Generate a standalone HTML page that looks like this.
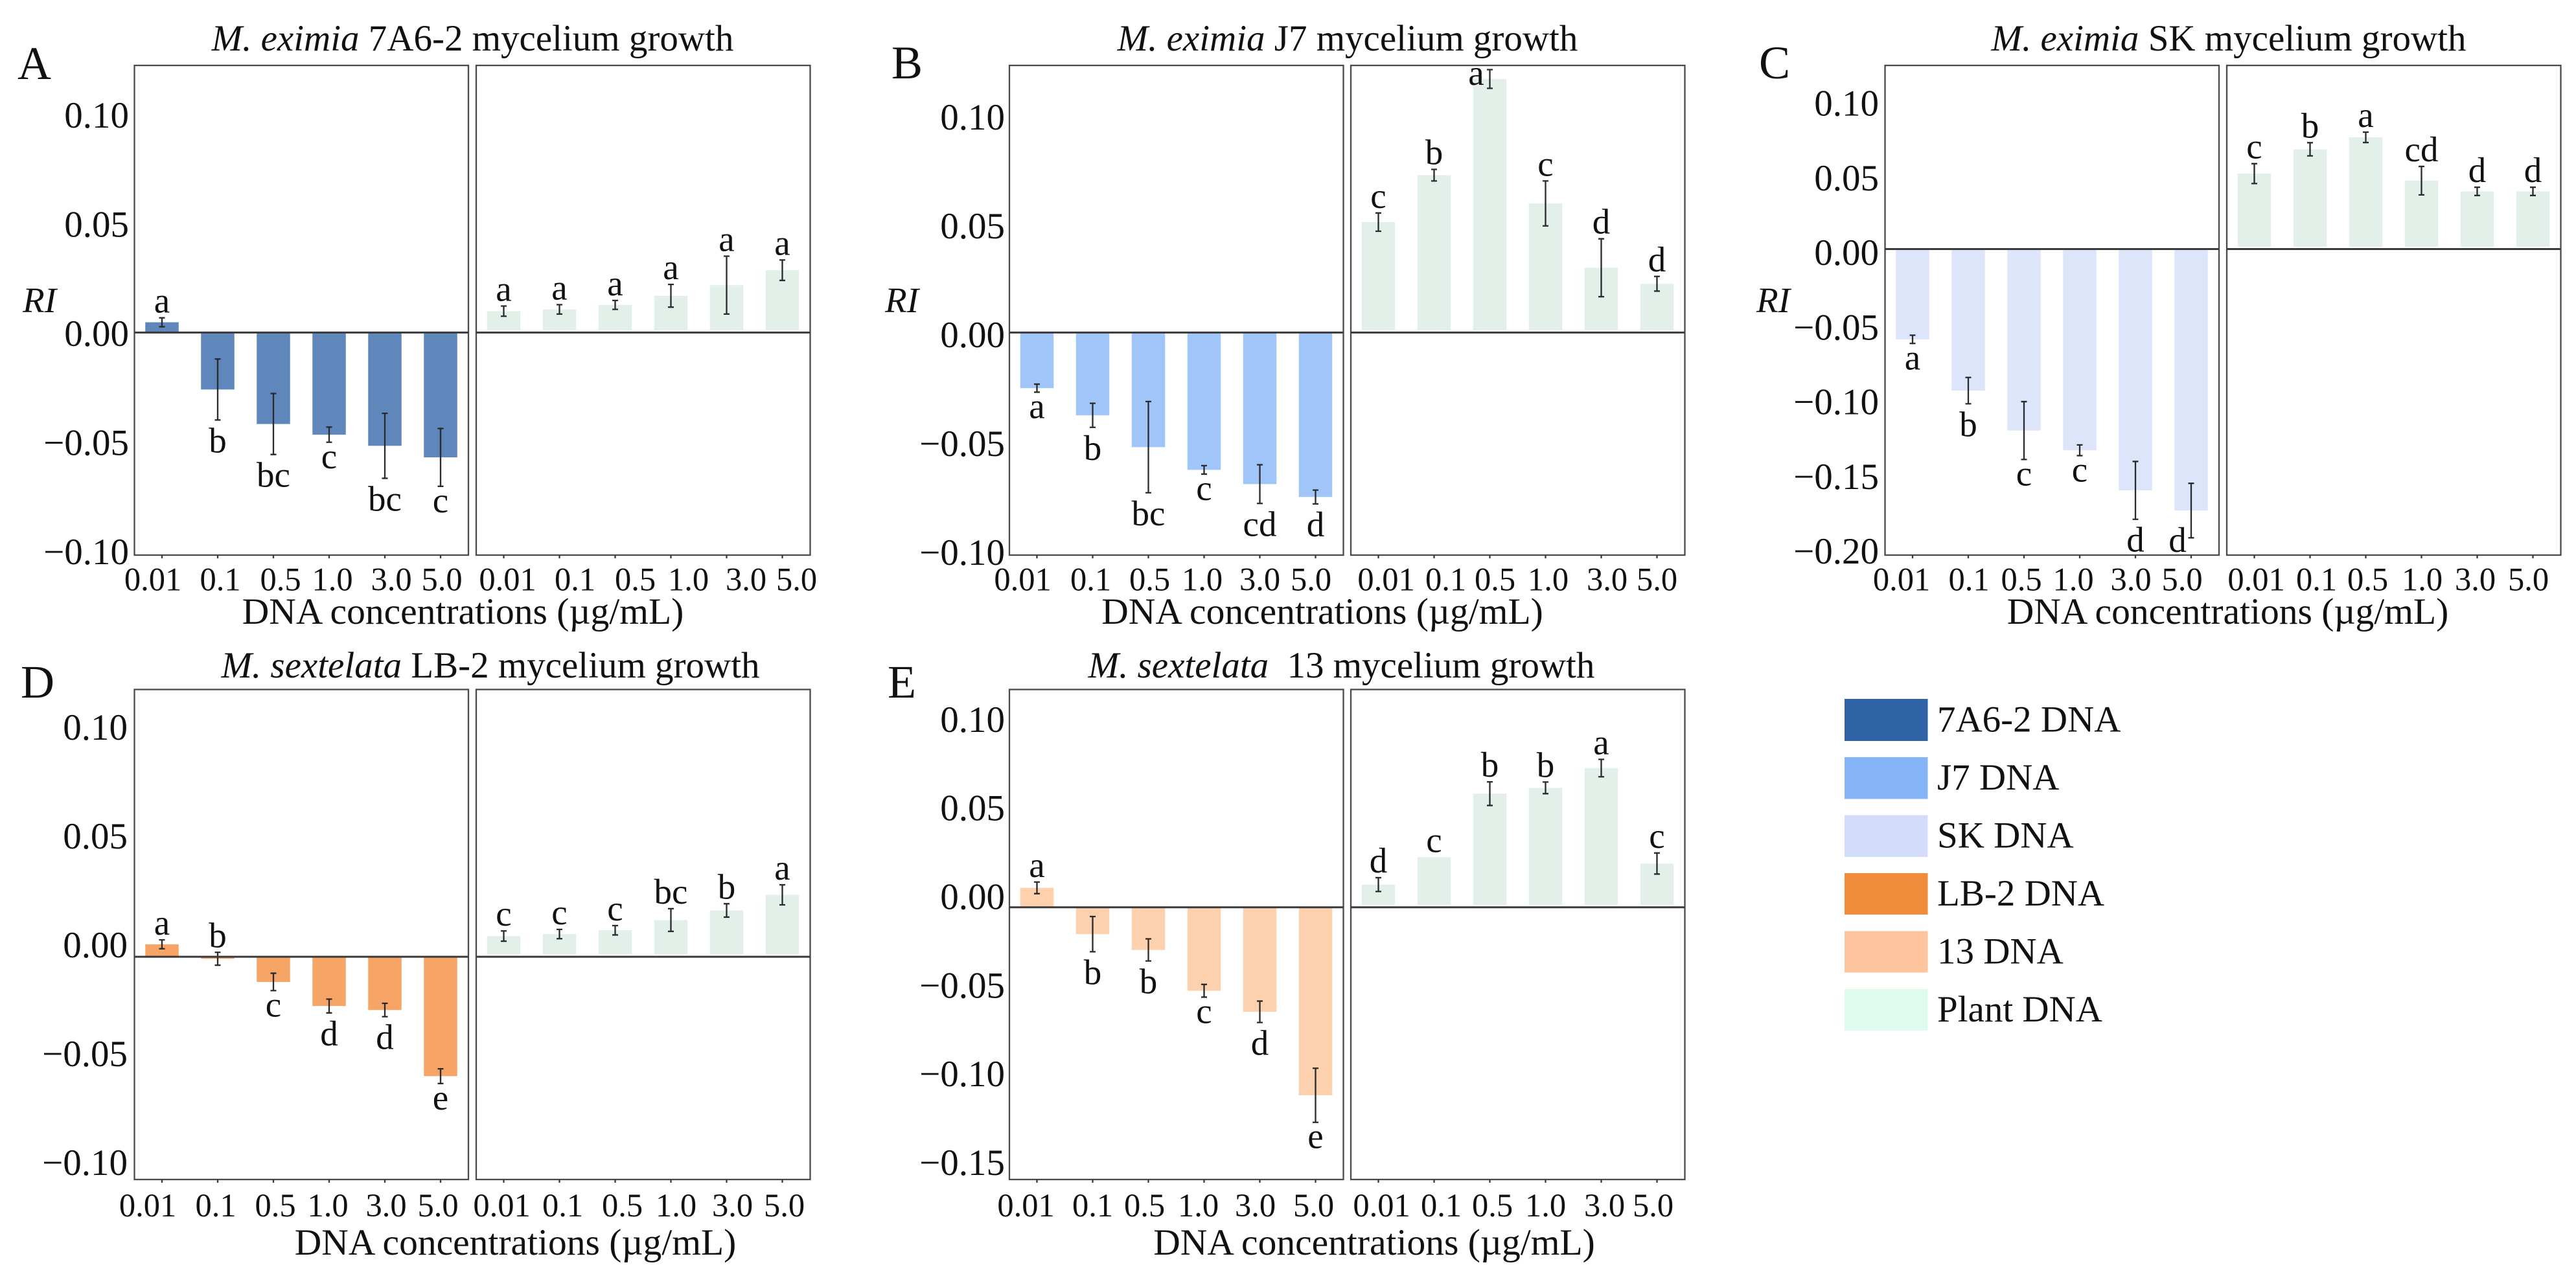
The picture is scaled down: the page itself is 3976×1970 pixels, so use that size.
<!DOCTYPE html>
<html lang="en">
<head>
<meta charset="utf-8">
<title>Mycelium growth RI charts</title>
<style>
html,body{margin:0;padding:0;background:#fff;width:3976px;height:1970px;overflow:hidden}
svg{display:block;font-family:"Liberation Serif",serif;fill:#111}
.title,.ytick{font-size:57px}
.xlabel{font-size:57.5px}
.ylabel{font-size:55px}
.xtick{font-size:50.5px}
.letter{font-size:55px}
.panel-letter{font-size:72px}
</style>
</head>
<body>
<svg id="figure" xmlns="http://www.w3.org/2000/svg" width="3976" height="1970" viewBox="0 0 3976 1970">
  <rect width="3976" height="1970" fill="#fff"/>

  <text class="panel-letter" x="27" y="122">A</text>
  <text class="panel-letter" x="1376" y="121">B</text>
  <text class="panel-letter" x="2715" y="121">C</text>
  <text class="panel-letter" x="32" y="1077">D</text>
  <text class="panel-letter" x="1370" y="1077">E</text>

  <text class="title" x="729.5" y="78" text-anchor="middle"><tspan font-style="italic">M. eximia</tspan> 7A6-2 mycelium growth</text>
  <text class="title" x="2080" y="78" text-anchor="middle"><tspan font-style="italic">M. eximia</tspan> J7 mycelium growth</text>
  <text class="title" x="3440" y="78" text-anchor="middle"><tspan font-style="italic">M. eximia</tspan> SK mycelium growth</text>
  <text class="title" x="757" y="1046" text-anchor="middle"><tspan font-style="italic">M. sextelata</tspan> LB-2 mycelium growth</text>
  <text class="title" x="2070.5" y="1046" text-anchor="middle"><tspan font-style="italic">M. sextelata</tspan><tspan dx="14"> 13 mycelium growth</tspan></text>

  <text class="ylabel" font-style="italic" x="35" y="482">RI</text>
  <text class="ylabel" font-style="italic" x="1366" y="482">RI</text>
  <text class="ylabel" font-style="italic" x="2711" y="482">RI</text>

  <text class="xlabel" x="714.5" y="963" text-anchor="middle">DNA concentrations (µg/mL)</text>
  <text class="xlabel" x="2041" y="963" text-anchor="middle">DNA concentrations (µg/mL)</text>
  <text class="xlabel" x="3438.5" y="963" text-anchor="middle">DNA concentrations (µg/mL)</text>
  <text class="xlabel" x="795.5" y="1937" text-anchor="middle">DNA concentrations (µg/mL)</text>
  <text class="xlabel" x="2121" y="1937" text-anchor="middle">DNA concentrations (µg/mL)</text>

  <g>
    <g><rect x="2847" y="1079" width="128.5" height="65" fill="#3063a5"/><text class="title" x="2990" y="1129.5">7A6-2 DNA</text></g>
    <g><rect x="2847" y="1169" width="128.5" height="64.5" fill="#85b4f7"/><text class="title" x="2990" y="1219">J7 DNA</text></g>
    <g><rect x="2847" y="1258.5" width="128.5" height="64.5" fill="#d4dcfc"/><text class="title" x="2990" y="1308.5">SK DNA</text></g>
    <g><rect x="2847" y="1348" width="128.5" height="64" fill="#f08c3a"/><text class="title" x="2990" y="1398">LB-2 DNA</text></g>
    <g><rect x="2847" y="1437.5" width="128.5" height="64" fill="#fec49d"/><text class="title" x="2990" y="1487.5">13 DNA</text></g>
    <g><rect x="2847" y="1527" width="128.5" height="64" fill="#defbee"/><text class="title" x="2990" y="1577">Plant DNA</text></g>
  </g>
  <g id="plots"></g>
</svg>
<script>
const concentrations = ["0.01", "0.1", "0.5", "1.0", "3.0", "5.0"];

const yTicksStandard = [0.10, 0.05, 0.00, -0.05, -0.10];
const yTicksC = [0.10, 0.05, 0.00, -0.05, -0.10, -0.15, -0.20];
const yTicksE = [0.10, 0.05, 0.00, -0.05, -0.10, -0.15];

const valuesAFungal = [0.0046, -0.0256, -0.0411, -0.0459, -0.0509, -0.0561];
const errorsAFungal = [0.0020, 0.0137, 0.0137, 0.0034, 0.0146, 0.0130];
const lettersAFungal = ["a", "b", "bc", "c", "bc", "c"];
const valuesAPlant = [0.0096, 0.0104, 0.0124, 0.0165, 0.0213, 0.0280];
const errorsAPlant = [0.0023, 0.0021, 0.0020, 0.0051, 0.0130, 0.0046];
const lettersAPlant = ["a", "a", "a", "a", "a", "a"];

const valuesBFungal = [-0.0250, -0.0372, -0.0515, -0.0617, -0.0681, -0.0739];
const errorsBFungal = [0.0018, 0.0054, 0.0205, 0.0019, 0.0087, 0.0031];
const lettersBFungal = ["a", "b", "bc", "c", "cd", "d"];
const valuesBPlant = [0.0496, 0.0707, 0.1139, 0.0580, 0.0291, 0.0219];
const errorsBPlant = [0.0041, 0.0026, 0.0042, 0.0101, 0.0130, 0.0033];
const lettersBPlant = ["c", "b", "a", "c", "d", "d"];

const valuesCFungal = [-0.0590, -0.0925, -0.1186, -0.1315, -0.1577, -0.1709];
const errorsCFungal = [0.0027, 0.0086, 0.0189, 0.0035, 0.0189, 0.0178];
const lettersCFungal = ["a", "b", "c", "c", "d", "d"];
const valuesCPlant = [0.0493, 0.0652, 0.0730, 0.0447, 0.0377, 0.0377];
const errorsCPlant = [0.0065, 0.0043, 0.0034, 0.0093, 0.0027, 0.0027];
const lettersCPlant = ["c", "b", "a", "cd", "d", "d"];

const valuesDFungal = [0.0056, -0.0009, -0.0113, -0.0221, -0.0239, -0.0536];
const errorsDFungal = [0.0020, 0.0029, 0.0039, 0.0031, 0.0030, 0.0033];
const lettersDFungal = ["a", "b", "c", "d", "d", "e"];
const valuesDPlant = [0.0093, 0.0102, 0.0119, 0.0165, 0.0208, 0.0278];
const errorsDPlant = [0.0023, 0.0021, 0.0021, 0.0051, 0.0030, 0.0045];
const lettersDPlant = ["c", "c", "c", "bc", "b", "a"];

const valuesEFungal = [0.0107, -0.0148, -0.0235, -0.0460, -0.0576, -0.1036];
const errorsEFungal = [0.0032, 0.0097, 0.0061, 0.0035, 0.0059, 0.0149];
const lettersEFungal = ["a", "b", "b", "c", "d", "e"];
const valuesEPlant = [0.0125, 0.0276, 0.0626, 0.0658, 0.0767, 0.0241];
const errorsEPlant = [0.0038, 0, 0.0065, 0.0032, 0.0048, 0.0058];
const lettersEPlant = ["d", "c", "b", "b", "a", "c"];

const PLANT_COLOR = "#e3f0ea";
const BOX_W = 515.5, FIRST = 42.5, STEP = 86, BAR_W = 51.5;

const panels = [
  {fungal:[valuesAFungal,errorsAFungal,lettersAFungal], plant:[valuesAPlant,errorsAPlant,lettersAPlant], color:"#5f87bb",
   L:207.5, R:735, top:101, bottom:857, yMin:-0.10, ticks:yTicksStandard, tickRight:199, lblZero:515, lblScale:3370, xBase:911.5,
   nudgeL:[-14,4,11,5,10,2], nudgeR:[6,24,31,27,30,22]},
  {fungal:[valuesBFungal,errorsBFungal,lettersBFungal], plant:[valuesBPlant,errorsBPlant,lettersBPlant], color:"#a0c6f9",
   L:1558, R:2085, top:101, bottom:857, yMin:-0.10, ticks:yTicksStandard, tickRight:1551, lblZero:517, lblScale:3360, xBase:911.5,
   nudgeL:[-22,-3,2,-3,0,-7], nudgeR:[12,18,8,4,9,0]},
  {fungal:[valuesCFungal,errorsCFungal,lettersCFungal], plant:[valuesCPlant,errorsCPlant,lettersCPlant], color:"#dde5fb",
   L:2909.5, R:3437, top:101, bottom:857, yMin:-0.20, ticks:yTicksC, tickRight:2900, lblZero:390, lblScale:2305, xBase:911.5,
   nudgeL:[-17,1,-4,-10,-7,-14], nudgeR:[3,10,3,1,-3,-7]},
  {fungal:[valuesDFungal,errorsDFungal,lettersDFungal], plant:[valuesDPlant,errorsDPlant,lettersDPlant], color:"#f6a566",
   L:207.5, R:735, top:1064.5, bottom:1821, yMin:-0.10, ticks:yTicksStandard, tickRight:197, lblZero:1459, lblScale:3360, xBase:1878,
   nudgeL:[-22,-3,3,-2,2,-4], nudgeR:[-3,5,11,8,9,3]},
  {fungal:[valuesEFungal,errorsEFungal,lettersEFungal], plant:[valuesEPlant,errorsEPlant,lettersEPlant], color:"#fdd0ae",
   L:1558, R:2085, top:1064.5, bottom:1821, yMin:-0.15, ticks:yTicksE, tickRight:1551, lblZero:1384.5, lblScale:2737, xBase:1878,
   nudgeL:[-17,0,-6,-9,-7,-3], nudgeR:[5,11,4,0,5,-6]}
];
const Y_MAX = 0.12;
const NS = "http://www.w3.org/2000/svg";
const root = document.getElementById("plots");

function make(parent, tag, attrs, text) {
  const el = document.createElementNS(NS, tag);
  for (const k in attrs) el.setAttribute(k, attrs[k]);
  if (text !== undefined) el.textContent = text;
  parent.appendChild(el);
  return el;
}

function drawSubplot(parent, p, boxX, data, color, nudges, isPlant) {
  const [values, errors, letters] = data;
  const xScale = i => boxX + FIRST + i * STEP;
  const yScale = v => p.top + (Y_MAX - v) / (Y_MAX - p.yMin) * (p.bottom - p.top);
  const zero = yScale(0);

  values.forEach((v, i) => {
    const y1 = yScale(v);
    const bar = make(parent, "rect", {x: xScale(i) - BAR_W / 2, y: Math.min(y1, zero), width: BAR_W, height: Math.abs(y1 - zero), fill: color});
    
    
  });

  if (isPlant) {
    const gap = make(parent, "line", {x1: boxX, x2: boxX + BOX_W, y1: zero, y2: zero, stroke: "#fff", "stroke-width": 7});
    
    
  }

  values.forEach((v, i) => {
    const x = xScale(i), hi = yScale(v + errors[i]), lo = yScale(v - errors[i]);
    if (errors[i] > 0) {
      const err = make(parent, "path", {d: `M${x} ${hi}V${lo}M${x - 4.5} ${hi}H${x + 4.5}M${x - 4.5} ${lo}H${x + 4.5}`, fill: "none", stroke: "#2a2a2a", "stroke-width": 2.3});
      
      
    }
    const above = v + errors[i] > 0;
    const tall = /[bd]/.test(letters[i]);
    let lx = x, ly = above ? hi - 8 : lo + (tall ? 50 : 40);
    if (above && ly - 24 < p.top) { lx = x - 21; ly = p.top + 30; }
    if (!above && ly > p.bottom) { lx = x - 21; ly = p.bottom - 5; }
    const letter = make(parent, "text", {class: "letter", x: lx, y: ly, "text-anchor": "middle"}, letters[i]);
    
    
  });

  const box = make(parent, "rect", {x: boxX, y: p.top, width: BOX_W, height: p.bottom - p.top, fill: "none", stroke: "#4a4a4a", "stroke-width": 2.3});
  
  

  const zl = make(parent, "line", {x1: boxX, x2: boxX + BOX_W, y1: zero, y2: zero, stroke: "#3a3a3a", "stroke-width": 3});
  
  

  concentrations.forEach((c, i) => {
    const x = xScale(i);
    const tick = make(parent, "line", {x1: x, x2: x, y1: p.bottom, y2: p.bottom + 5, stroke: "#3a3a3a", "stroke-width": 2.3});
    
    
    const label = make(parent, "text", {class: "xtick", x: x + nudges[i], y: p.xBase, "text-anchor": "middle"}, c);
    
    
  });
}

panels.forEach(p => {
  const g = make(root, "g", {});
  
  

  p.ticks.forEach(t => {
    const txt = (t < 0 ? "\u2212" : "") + Math.abs(t).toFixed(2);
    const label = make(g, "text", {class: "ytick", x: p.tickRight, y: p.lblZero - t * p.lblScale + 19, "text-anchor": "end"}, txt);
    
    
  });

  drawSubplot(g, p, p.L, p.fungal, p.color, p.nudgeL, false);
  drawSubplot(g, p, p.R, p.plant, PLANT_COLOR, p.nudgeR, true);
});
</script>
</body>
</html>
